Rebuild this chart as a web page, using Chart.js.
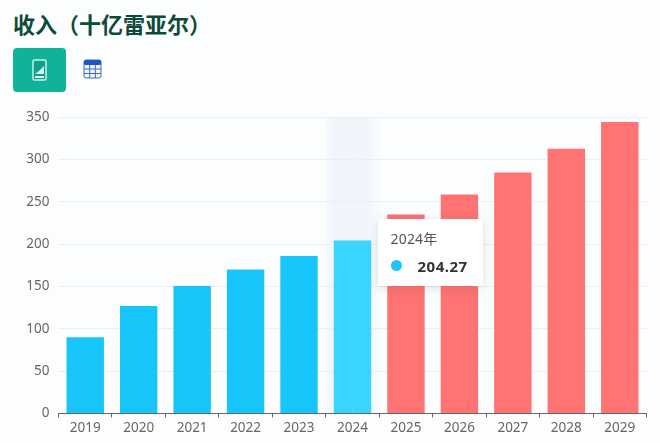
<!DOCTYPE html>
<html lang="zh">
<head>
<meta charset="utf-8">
<script src="https://cdn.jsdelivr.net/npm/chart.js@4"></script>
<style>
  html, body { margin: 0; padding: 0; background: #fcfdfe; }
  body { width: 660px; height: 443px; position: relative; overflow: hidden; font-family: "Noto Sans", "Noto Sans CJK SC", sans-serif; }
  #title { position: absolute; left: 13px; top: 7px; font: bold 22px/32px "Noto Sans CJK SC", sans-serif; color: #0d4a38; white-space: nowrap; }
  #btnChart { position: absolute; left: 13px; top: 48px; width: 53px; height: 44px; background: #12b298; border-radius: 4px; }
  #btnChart svg { position: absolute; left: 19px; top: 11px; }
  #btnTable { position: absolute; left: 83px; top: 59px; }
  #revenueChart { position: absolute; left: 0; top: 0; }
  #tip { position: absolute; display: none; width: 105px; height: 67px; background: #fff; box-shadow: 0 2px 10px rgba(60, 70, 90, 0.16); color: #333; }
  #tipTitle { position: absolute; left: 13px; top: 9px; font-size: 14px; line-height: 22px; color: #555; letter-spacing: 0.2px; }
  #tipDot { position: absolute; left: 13px; top: 41px; width: 11px; height: 11px; border-radius: 50%; background: #1cc4f7; }
  #tipValue { position: absolute; left: 40px; top: 35px; font-size: 15px; font-weight: bold; line-height: 24px; color: #333; letter-spacing: 0.5px; }
</style>
</head>
<body>
<div id="title">收入（十亿雷亚尔）</div>
<div id="btnChart">
  <svg width="15" height="22" viewBox="0 0 15 22">
    <rect x="1" y="1" width="13" height="20" rx="1.5" fill="#12a08e" stroke="#c9f1ea" stroke-width="1.5"/>
    <path d="M3 15 L7 12 L12 7 V15 Z" fill="#d8f3ee"/>
    <rect x="3" y="17" width="9" height="2" fill="#d8f3ee"/>
  </svg>
</div>
<div id="btnTable">
  <svg width="19" height="20" viewBox="0 0 19 20">
    <rect x="1" y="1" width="17" height="18" rx="2" fill="#f4f7fd" stroke="#3f68b5" stroke-width="1"/>
    <rect x="1" y="1" width="17" height="5" rx="1.5" fill="#1f55c4"/>
    <path d="M1 10 H18 M1 14.5 H18 M6.7 6 V19 M12.3 6 V19" stroke="#3f68b5" stroke-width="1"/>
  </svg>
</div>
<canvas id="revenueChart" width="660" height="443"></canvas>
<div id="tip">
  <div id="tipTitle"></div>
  <div id="tipDot"></div>
  <div id="tipValue"></div>
</div>
<script>
const years = ['2019', '2020', '2021', '2022', '2023', '2024', '2025', '2026', '2027', '2028', '2029'];
const revenue = [90, 126.8, 150.5, 170, 186, 204.27, 235, 258.5, 284.5, 312.5, 344];
const yTicks = [0, 50, 100, 150, 200, 250, 300, 350];
const actualCount = 6;
const activeIndex = 5;

const barColors = years.map((y, i) => i < actualCount ? '#17c5fb' : '#ff7373');
barColors[activeIndex] = '#3ad5ff';

// light band behind the hovered year, soft on both sides, grid stays on top
const hoverBand = {
  id: 'hoverBand',
  beforeDraw(chart) {
    const { ctx, chartArea, scales } = chart;
    const x = scales.x.getPixelForValue(activeIndex);
    const half = (scales.x.getPixelForValue(1) - scales.x.getPixelForValue(0)) / 2;
    const fade = ctx.createLinearGradient(x - half, 0, x + half, 0);
    fade.addColorStop(0, 'rgba(241, 245, 251, 0.3)');
    fade.addColorStop(0.12, 'rgba(241, 245, 251, 1)');
    fade.addColorStop(0.75, 'rgba(241, 245, 251, 1)');
    fade.addColorStop(1, 'rgba(241, 245, 251, 0.2)');
    ctx.save();
    ctx.fillStyle = fade;
    ctx.fillRect(x - half, chartArea.top, half * 2, chartArea.bottom - chartArea.top);
    ctx.restore();
  }
};

function showTip(context) {
  const model = context.tooltip;
  const tip = document.getElementById('tip');
  if (!model.dataPoints || !model.dataPoints.length) return;
  const point = model.dataPoints[0];
  document.getElementById('tipTitle').textContent = point.label + '年';
  document.getElementById('tipValue').textContent = point.parsed.y.toFixed(2);
  tip.style.display = 'block';
  tip.style.left = (point.element.x + 25) + 'px';
  tip.style.top = (point.element.y - 21) + 'px';
}

const chart = new Chart(document.getElementById('revenueChart'), {
  type: 'bar',
  data: {
    labels: years,
    datasets: [{
      data: revenue,
      backgroundColor: barColors,
      hoverBackgroundColor: barColors,
      barPercentage: 0.7,
      categoryPercentage: 1
    }]
  },
  options: {
    responsive: false,
    animation: false,
    events: [],
    layout: { padding: { top: 117, right: 13.5, left: 0, bottom: 0 } },
    plugins: {
      legend: { display: false },
      tooltip: { enabled: false, external: showTip }
    },
    scales: {
      x: {
        afterFit: s => { s.height = 29.5; },
        border: { color: '#666', width: 1 },
        grid: { drawOnChartArea: false, color: '#666', tickLength: 4 },
        ticks: { color: '#666', font: { family: '"Noto Sans"', size: 13.5 }, padding: 3, maxRotation: 0 }
      },
      y: {
        min: 0,
        max: 350,
        afterFit: s => { s.width = 58.5; },
        afterBuildTicks: s => { s.ticks = yTicks.map(v => ({ value: v })); },
        border: { display: false },
        grid: { color: '#ebeef4', lineWidth: 1, tickLength: 0 },
        ticks: { color: '#666', font: { family: '"Noto Sans"', size: 13.5 }, padding: 9 }
      }
    }
  },
  plugins: [hoverBand]
});

chart.tooltip.setActiveElements([{ datasetIndex: 0, index: activeIndex }], { x: 0, y: 0 });
chart.update();
</script>
</body>
</html>
